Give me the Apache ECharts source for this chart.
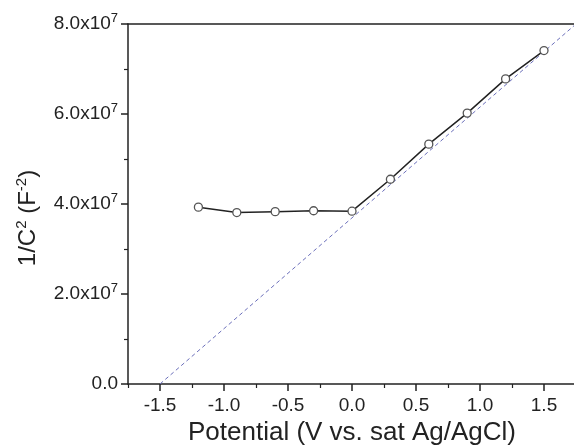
<!DOCTYPE html>
<html><head><meta charset="utf-8">
<script src="https://cdn.jsdelivr.net/npm/echarts@6/dist/echarts.min.js"></script>
<style>html,body{margin:0;padding:0;background:#fff}#c{width:574px;height:447px}</style>
</head><body><div id="c"></div>
<script>
var potential = [-1.2, -0.9, -0.6, -0.3, 0.0, 0.3, 0.6, 0.9, 1.2, 1.5];
var invCsq = [3.93e7, 3.81e7, 3.83e7, 3.85e7, 3.84e7, 4.55e7, 5.33e7, 6.02e7, 6.78e7, 7.41e7];
var fitX = [-1.5, 1.75];
var fitY = [0, 8.0e7];
var xMajorTicks = [-1.5, -1.0, -0.5, 0.0, 0.5, 1.0, 1.5];
var xMinorTicks = [-1.75, -1.25, -0.75, -0.25, 0.25, 0.75, 1.25];
var yTickLabels = ['0.0', '2.0x10^7', '4.0x10^7', '6.0x10^7', '8.0x10^7'];

var FONT = 'Liberation Sans, Arial, sans-serif';
var chart = echarts.init(document.getElementById('c'), null, {renderer: 'canvas'});
function yFmt(v) {
  var i = Math.round(v / 2e7);
  var t = yTickLabels[i];
  if (t === undefined) return '';
  var p = t.split('^');
  if (p.length === 1) return '{a|' + p[0] + '}';
  return '{a|' + p[0] + '}{s|' + p[1] + '}';
}
var axisLineStyle = {color: '#222', width: 1.5};
chart.setOption({
  animation: false,
  grid: {left: 128, top: 24, width: 448, height: 360, containLabel: false, outerBoundsMode: 'none'},
  xAxis: [{
    type: 'value', min: -1.75, max: 1.75, position: 'bottom',
    axisLine: {show: true, onZero: false, lineStyle: axisLineStyle},
    axisTick: {show: true, inside: false, length: 7, lineStyle: {color: '#222', width: 1.5}, customValues: xMajorTicks},
    axisLabel: {show: true, customValues: xMajorTicks, fontFamily: FONT, fontSize: 19, color: '#222', margin: 12,
      formatter: function (v) { return v.toFixed(1); }},
    splitLine: {show: false},
    name: 'Potential (V vs. sat Ag/AgCl)', nameLocation: 'middle', nameGap: 36,
    nameTextStyle: {fontFamily: FONT, fontSize: 26, color: '#222'}
  }, {
    type: 'value', min: -1.75, max: 1.75, position: 'bottom',
    axisLine: {show: false, onZero: false},
    axisTick: {show: true, inside: false, length: 4, lineStyle: {color: '#222', width: 1.2}, customValues: xMinorTicks},
    axisLabel: {show: false}, splitLine: {show: false}
  }, {
    type: 'value', min: -1.75, max: 1.75, position: 'top',
    axisLine: {show: true, onZero: false, lineStyle: axisLineStyle},
    axisTick: {show: false}, axisLabel: {show: false}, splitLine: {show: false}
  }],
  yAxis: [{
    type: 'value', min: 0, max: 8e7, interval: 2e7, position: 'left',
    axisLine: {show: true, onZero: false, lineStyle: axisLineStyle},
    axisTick: {show: true, inside: false, length: 7, lineStyle: {color: '#222', width: 1.5}},
    minorTick: {show: true, splitNumber: 2, length: 4, lineStyle: {color: '#222', width: 1.2}},
    axisLabel: {formatter: yFmt, margin: 10, rich: {
      a: {fontFamily: FONT, fontSize: 19, color: '#222'},
      s: {fontFamily: FONT, fontSize: 13, color: '#222', padding: [0, 0, 11, 0]}
    }},
    splitLine: {show: false}
  }],
  graphic: [{
    type: 'text', x: 28, y: 218, rotation: Math.PI / 2,
    style: {
      text: '{a|1/C}{s|2}{a| (F}{s|-2}{a|)}',
      align: 'center', verticalAlign: 'middle',
      rich: {
        a: {fontFamily: FONT, fontSize: 24, fill: '#222'},
        s: {fontFamily: FONT, fontSize: 15, fill: '#222', padding: [0, 0, 13, 0]}
      }
    }
  }],
  series: [{
    type: 'line', xAxisIndex: 0, yAxisIndex: 0,
    data: fitX.map(function (x, i) { return [x, fitY[i]]; }),
    symbol: 'none', silent: true,
    lineStyle: {color: '#6b6fba', width: 1, type: [4, 3]}
  }, {
    type: 'line', xAxisIndex: 0, yAxisIndex: 0,
    data: potential.map(function (x, i) { return [x, invCsq[i]]; }),
    symbol: 'circle', symbolSize: 8,
    itemStyle: {color: '#fff', borderColor: '#555', borderWidth: 1.3},
    lineStyle: {color: '#222', width: 1.5}
  }]
});
</script></body></html>
